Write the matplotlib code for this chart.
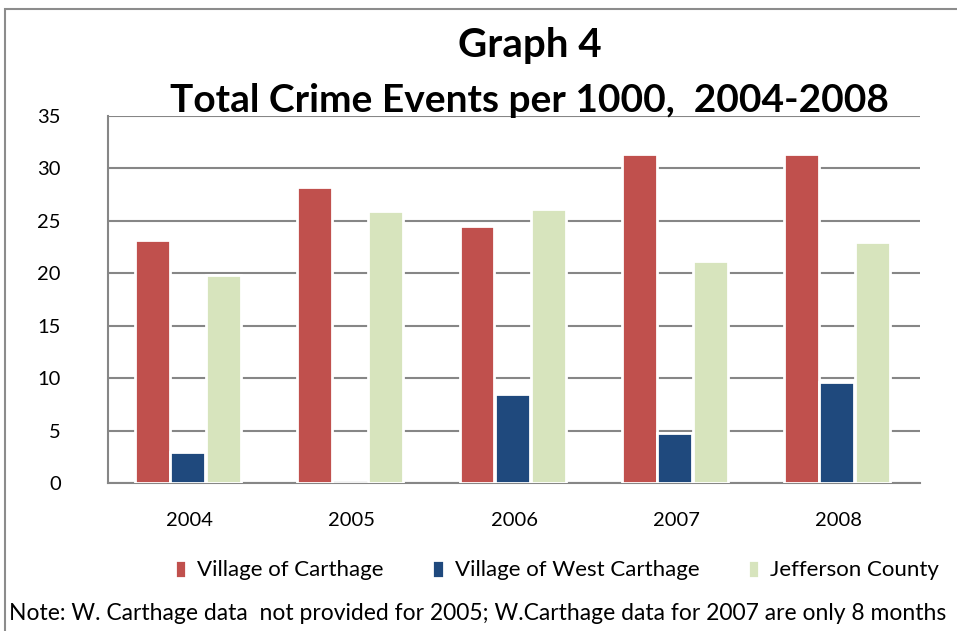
import numpy as np
import matplotlib
matplotlib.use("Agg")
import matplotlib.pyplot as plt
from matplotlib.patches import Rectangle

# data
years = ["2004", "2005", "2006", "2007", "2008"]
carthage = [23.2, 28.2, 24.5, 31.4, 31.4]
west_carthage = [3.0, 0.0, 8.5, 4.8, 9.6]   # 2005 not provided
jefferson = [19.8, 25.9, 26.1, 21.2, 23.0]
series_names = ["Village of Carthage", "Village of West Carthage", "Jefferson County"]
colors = ["#C0504D", "#1F497D", "#D7E4BD"]

plt.rcParams['font.family'] = ['Lato', 'DejaVu Sans']

fig = plt.figure(figsize=(9.57, 6.31), dpi=100)
# outer chart border (left and top only visible in the reference)
fig.patches.append(Rectangle((5 / 957, -0.1), 1.2, 1.1 - 9 / 631, transform=fig.transFigure,
                             fill=False, edgecolor="#8c8c8c", linewidth=1.5))

ax = fig.add_axes([108 / 957, 1 - 483 / 631, 812 / 957, 367 / 631])

x = np.arange(len(years))
width = 0.215
offsets = [-0.228, -0.012, 0.21]
for vals, off, col, name in zip([carthage, west_carthage, jefferson], offsets, colors, series_names):
    ax.bar(x + off, vals, width, color=col, edgecolor="white", linewidth=2, label=name, zorder=3)

ax.set_xlim(-0.5, len(years) - 0.5)
ax.set_ylim(0, 35)
ax.set_yticks(range(0, 36, 5))
ax.set_xticks(x)
ax.set_xticklabels(years)
ax.yaxis.grid(True, color="#868686", linewidth=1.5, zorder=0)
ax.set_axisbelow(True)
for s in ["top", "right"]:
    ax.spines[s].set_visible(False)
for s in ["left", "bottom"]:
    ax.spines[s].set_color("#868686")
    ax.spines[s].set_linewidth(1.5)
ax.tick_params(axis="both", length=0, labelsize=14.5)
ax.tick_params(axis="x", pad=21)
ax.tick_params(axis="y", pad=34)
for lab in ax.get_yticklabels():
    lab.set_horizontalalignment("right")

fig.text(530 / 957, 1 - 45 / 631, "Graph 4", ha="center", va="center", fontsize=29, fontweight="bold")
fig.text(529 / 957, 1 - 100 / 631, "Total Crime Events per 1000,  2004-2008", ha="center", va="center",
         fontsize=28, fontweight="bold")

fig.legend(loc="center", bbox_to_anchor=(557 / 957, 1 - 570 / 631), ncol=3, frameon=False,
           fontsize=16, handlelength=0.5, handleheight=0.9, columnspacing=2.2, handletextpad=0.5)

fig.text(478 / 957, 1 - 614 / 631,
         "Note: W. Carthage data  not provided for 2005; W.Carthage data for 2007 are only 8 months",
         ha="center", va="center", fontsize=16.5)

fig.savefig("out.png", dpi=100)
